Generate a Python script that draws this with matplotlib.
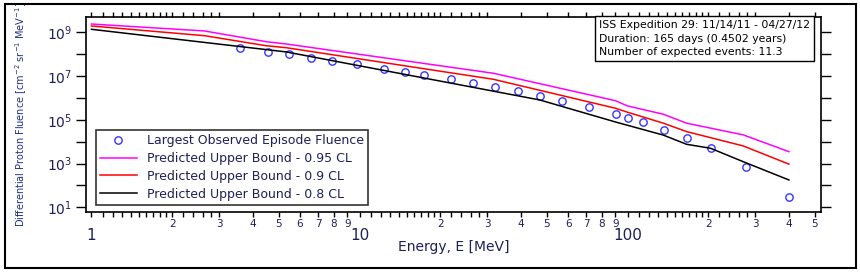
import matplotlib
matplotlib.use("Agg")
import matplotlib.pyplot as plt
from matplotlib.patches import Rectangle
from matplotlib.ticker import NullFormatter, NullLocator
import numpy as np

# observed episode fluence (blue circles)
obs_energy = [3.58, 4.57, 5.44, 6.59, 7.91, 9.81, 12.3, 14.8, 17.4, 22.0, 26.4,
              32.0, 39.0, 47.0, 57.0, 72.0, 90.6, 100, 114.5, 137, 166, 204, 276, 401]
obs_fluence = [1.98e8, 1.30e8, 1.0e8, 6.9e7, 4.9e7, 3.46e7, 2.18e7, 1.54e7, 1.12e7,
               7.1e6, 5.0e6, 3.18e6, 2.02e6, 1.23e6, 7.5e5, 3.76e5, 1.80e5, 1.26e5,
               7.8e4, 3.46e4, 1.52e4, 5.05e3, 706, 31]

# predicted upper bounds
cl95_energy = [1, 2.64, 4.48, 5.32, 31.6, 90, 100, 136, 166, 270, 400]
cl95_fluence = [2.39e9, 1.15e9, 3.73e8, 2.93e8, 1.34e7, 7.5e5, 4.3e5, 1.8e5, 7.0e4, 2.05e4, 3.5e3]

cl90_energy = [1, 2.64, 4.48, 5.32, 31.6, 90, 100, 136, 166, 270, 400]
cl90_fluence = [1.94e9, 7.0e8, 2.44e8, 1.98e8, 7.1e6, 3.39e5, 2.22e5, 7.0e4, 2.89e4, 6.4e3, 940]

cl80_energy = [1, 5.32, 47, 90, 136, 166, 204, 270, 400]
cl80_fluence = [1.37e9, 1.27e8, 8.1e5, 8.0e4, 2.0e4, 7.6e3, 5.0e3, 1.22e3, 178]

info_lines = ["ISS Expedition 29: 11/14/11 - 04/27/12",
              "Duration: 165 days (0.4502 years)",
              "Number of expected events: 11.3"]

txt = "#1e2058"

fig = plt.figure(figsize=(8.6, 2.72), dpi=100)
fig.patches.append(Rectangle((5 / 860, 4 / 272), 851 / 860, 264 / 272,
                             transform=fig.transFigure, fill=False,
                             ec="black", lw=1.5))

ax = fig.add_axes([86 / 860, 60 / 272, 735 / 860, 195 / 272])

ax.plot(obs_energy, obs_fluence, "o", mfc="none", mec="#3535ff", ms=5.3, mew=1.0,
        label="Largest Observed Episode Fluence")
ax.plot(cl95_energy, cl95_fluence, color="#ff00ff", lw=1.1,
        label="Predicted Upper Bound - 0.95 CL")
ax.plot(cl90_energy, cl90_fluence, color="#ff0000", lw=1.1,
        label="Predicted Upper Bound - 0.9 CL")
ax.plot(cl80_energy, cl80_fluence, color="black", lw=1.1,
        label="Predicted Upper Bound - 0.8 CL")

ax.set_xscale("log")
ax.set_yscale("log")
ax.set_xlim(0.954, 527)
ax.set_ylim(6.1, 5.0e9)

# x ticks: decades big, 2..9 medium with small labels, finer ones unlabeled
big = [1, 10, 100]
med = [m * d for d in big for m in range(2, 10) if m * d < 527]
xt = sorted(big + med)
ax.set_xticks(xt)
ax.set_xticklabels([str(v) if v in big else str(int(v / 10 ** np.floor(np.log10(v))))
                    for v in xt])
fine = []
for d in big:
    fine += [d * f for f in [1.1, 1.2, 1.3, 1.4, 1.5, 1.6, 1.7, 1.8, 1.9, 2.2, 2.4, 2.6, 2.8]]
ax.set_xticks([f for f in fine if f < 527], minor=True)
ax.xaxis.set_minor_formatter(NullFormatter())

ax.tick_params(axis="both", which="both", direction="out", top=True, right=True,
               labeltop=False, labelright=False, width=1.0, colors="black")
ax.tick_params(axis="x", which="minor", length=3.5)
for v, tick in zip(xt, ax.xaxis.get_major_ticks()):
    if v in big:
        tick.tick1line.set_markersize(9.5)
        tick.tick2line.set_markersize(9.5)
        tick.label1.set_fontsize(11)
        tick.set_pad(8)
    else:
        tick.tick1line.set_markersize(6)
        tick.tick2line.set_markersize(4.5)
        tick.label1.set_fontsize(7.5)
        tick.set_pad(1.5)
    tick.label1.set_color(txt)

yt = [10.0 ** k for k in range(1, 10)]
ax.set_yticks(yt)
ax.set_yticklabels(["$10^{%d}$" % k if k % 2 == 1 else "" for k in range(1, 10)],
                   fontsize=10, color=txt)
ax.yaxis.set_minor_locator(NullLocator())
ax.yaxis.set_minor_formatter(NullFormatter())
ax.tick_params(axis="y", length=7, pad=3)

for s in ax.spines.values():
    s.set_linewidth(1.2)

ax.set_xlabel("Energy, E [MeV]", fontsize=10, color=txt, labelpad=-2)
ax.set_ylabel("Differential Proton Fluence [cm$^{-2}$ sr$^{-1}$ MeV$^{-1}$]",
              fontsize=7, color="#203080", labelpad=13)

leg = ax.legend(loc="lower left", bbox_to_anchor=(0.0136, 0.036), borderaxespad=0,
                fontsize=9, frameon=True, fancybox=False, handlelength=2.9,
                handletextpad=0.8, labelspacing=0.38, borderpad=0.35)
leg.get_frame().set_edgecolor("black")
leg.get_frame().set_linewidth(1.2)
for t in leg.get_texts():
    t.set_color(txt)

ax.text(0.985, 0.985, "\n".join(info_lines), transform=ax.transAxes, ha="right",
        va="top", fontsize=7.8, linespacing=1.45, multialignment="left",
        bbox=dict(boxstyle="square,pad=0.35", fc="white", ec="black", lw=1.0))

fig.savefig("out.png", dpi=100)
